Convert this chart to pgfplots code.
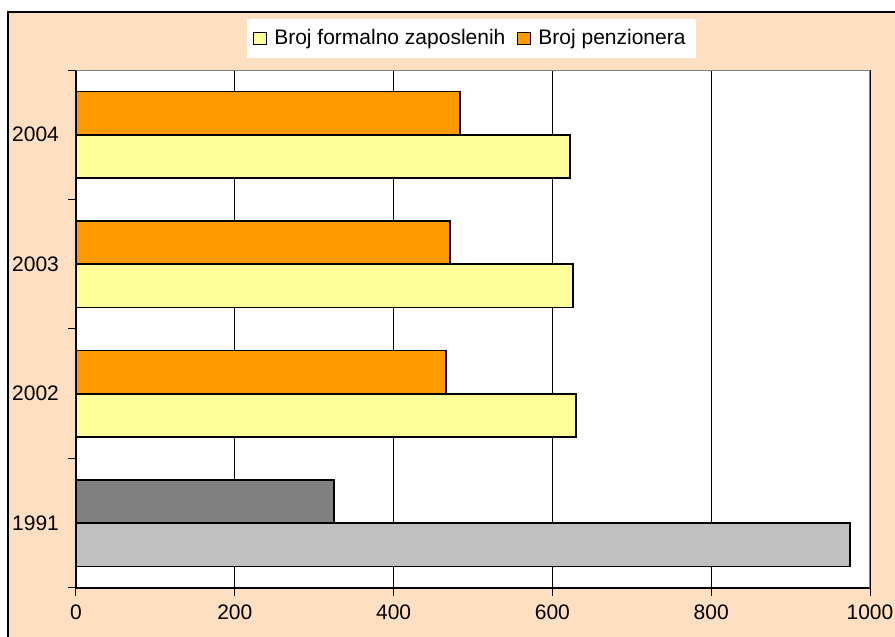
\documentclass[border=0pt]{standalone}
\usepackage{fontspec}
\setmainfont{Liberation Sans}
\usepackage{pgfplots}
\pgfplotsset{compat=1.18}
\definecolor{peach}{HTML}{FFDFC2}
\definecolor{formal}{HTML}{FFFF99}
\definecolor{penz}{HTML}{FF9900}
\definecolor{lgray}{HTML}{C0C0C0}
\definecolor{dgray}{HTML}{808080}
\begin{document}
\begin{tikzpicture}
\useasboundingbox (0,0) rectangle (447.5pt,318.5pt);
\begin{scope}
\clip (0,0) rectangle (447.5pt,318.5pt);
\fill[peach] (4pt,-10pt) rectangle (460pt,312.5pt);
\draw[black, line width=0.9pt] (4pt,-10pt) -- (4pt,312.5pt) -- (460pt,312.5pt);
\end{scope}
\begin{axis}[
  at={(38pt,24.5pt)}, anchor=south west,
  scale only axis, width=397pt, height=259pt,
  axis background/.style={fill=white},
  xbar, bar width=0.333,
  xmin=0, xmax=1000, ymin=-0.5, ymax=3.5,
  axis x line*=bottom, axis y line*=left,
  axis line style={black, line width=0.6pt},
  xtick={0,200,...,1000},
  /pgf/number format/1000 sep={},
  /pgf/number format/assume math mode=true,
  ytick={-0.5,0.5,1.5,2.5,3.5}, yticklabels={},
  extra y ticks={0,1,2,3},
  extra y tick labels={1991,2002,2003,2004},
  extra y tick style={major tick length=0pt, grid=none},
  tick align=outside, major tick length=4pt,
  tick style={black, line width=0.5pt},
  xmajorgrids, ymajorgrids=false,
  major grid style={black, line width=0.4pt},
  ticklabel style={font=\fontsize{10.5}{12}\selectfont},
  xticklabel style={yshift=-1pt},
  yticklabel style={xshift=-5pt},
  legend style={at={(0.498,1.061)}, anchor=center, draw=none, fill=white,
    font=\fontsize{10.5}{12}\selectfont, legend columns=2,
    inner xsep=3pt, inner ysep=3pt,
    /tikz/every odd column/.append style={column sep=1.5pt},
    /tikz/every even column/.append style={column sep=4pt}},
]
\addplot[fill=formal, draw=black, line width=0.8pt, bar shift=-0.1667,
  legend image code/.code={\draw[fill=formal, draw=black, line width=0.5pt] (0pt,-3.2pt) rectangle (6.5pt,3.2pt);}]
  coordinates {(630,1) (626,2) (622,3)};
\addlegendentry{Broj formalno zaposlenih}
\addplot[fill=penz, draw=black, line width=0.8pt, bar shift=0.1667,
  legend image code/.code={\draw[fill=penz, draw=black, line width=0.5pt] (0pt,-3.2pt) rectangle (6.5pt,3.2pt);}]
  coordinates {(466,1) (471,2) (484,3)};
\addlegendentry{Broj penzionera}
\addplot[fill=lgray, draw=black, line width=0.8pt, bar shift=-0.1667, forget plot]
  coordinates {(975,0)};
\addplot[fill=dgray, draw=black, line width=0.8pt, bar shift=0.1667, forget plot]
  coordinates {(325,0)};
\draw[dgray, line width=0.9pt] (rel axis cs:0,1) -- (rel axis cs:1,1) -- (rel axis cs:1,0);
\end{axis}
\end{tikzpicture}
\end{document}
